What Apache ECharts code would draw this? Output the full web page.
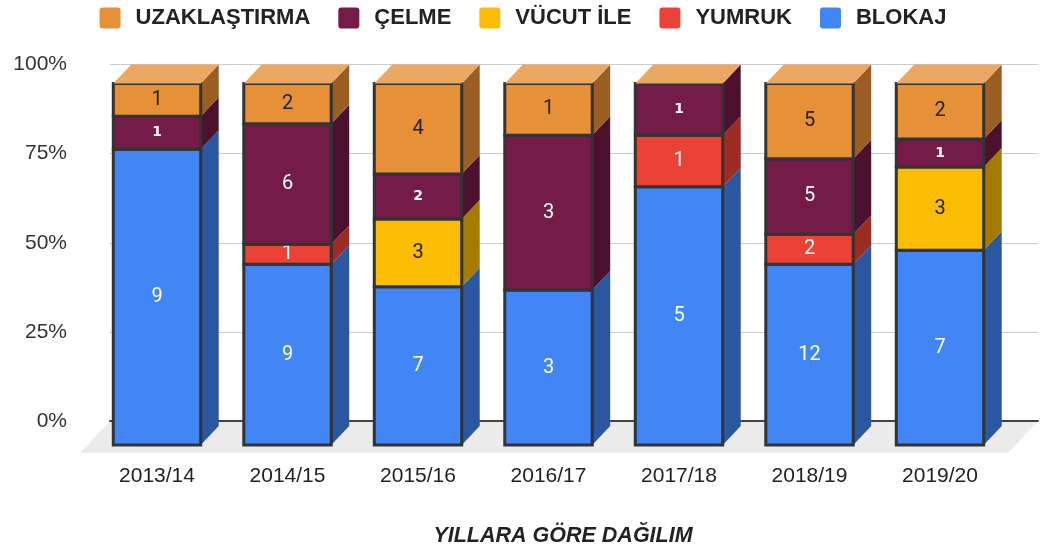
<!DOCTYPE html>
<html>
<head>
<meta charset="utf-8">
<script src="https://cdn.jsdelivr.net/npm/echarts@6/dist/echarts.min.js"></script>
<style>
  html, body { margin: 0; padding: 0; background: #fff; }
  #chart { width: 1046px; height: 552px; }
</style>
</head>
<body>
<div id="chart"></div>
<script>
// yillar
const categories = ['2013/14', '2014/15', '2015/16', '2016/17', '2017/18', '2018/19', '2019/20']
// seriler (alttan uste)
const blokaj = [9, 9, 7, 3, 5, 12, 7]
const yumruk = [0, 1, 0, 0, 1, 2, 0]
const vucutIle = [0, 0, 3, 0, 0, 0, 3]
const celme = [1, 6, 2, 3, 1, 5, 1]
const uzaklastirma = [1, 2, 4, 1, 0, 5, 2]
const yTicks = [0, 25, 50, 75, 100]
const legendOrder = ['UZAKLAŞTIRMA', 'ÇELME', 'VÜCUT İLE', 'YUMRUK', 'BLOKAJ']

const stack = [
  { name: 'BLOKAJ', values: blokaj, color: '#4285F4', side: '#2B57A0', label: '#fff' },
  { name: 'YUMRUK', values: yumruk, color: '#EA4335', side: '#9C2C23', label: '#fff' },
  { name: 'VÜCUT İLE', values: vucutIle, color: '#FBBC04', side: '#A37B00', label: '#222' },
  { name: 'ÇELME', values: celme, color: '#741B47', side: '#4B112E', label: '#fff', small: true },
  { name: 'UZAKLAŞTIRMA', values: uzaklastirma, color: '#E69138', side: '#9A5E22', label: '#222', top: '#EBA862' },
]

// derinlik (px)
const DX = 18
const DY = 19

let totals = categories.map((c, i) => stack.reduce((s, d) => s + d.values[i], 0))
let cum = categories.map(() => 0)
let seriesOption = []
for (let k = 0; k < stack.length; k++) {
  let d = stack[k]
  let data = []
  for (let i = 0; i < categories.length; i++) {
    let start = cum[i]
    let end = start + d.values[i] / totals[i] * 100
    cum[i] = end
    data.push([i, start, end, d.values[i]])
  }
  seriesOption.push({
    name: d.name,
    type: 'custom',
    xAxisIndex: 1,
    yAxisIndex: 1,
    clip: false,
    z: 3,
    itemStyle: { color: d.color },
    encode: { x: 0, y: [1, 2] },
    data: data,
    renderItem: function (params, api) {
      let cat = api.value(0)
      let s = api.value(1)
      let e = api.value(2)
      let v = api.value(3)
      let p0 = api.coord([cat, s])
      let p1 = api.coord([cat, e])
      let bw = api.size([1, 0])[0] * 0.67
      let xl = p0[0] - bw / 2
      let xr = xl + bw
      let children = []
      if (v > 0) {
        children.push({
          type: 'polygon',
          shape: { points: [[xr, p1[1]], [xr + DX, p1[1] - DY], [xr + DX, p0[1] - DY], [xr, p0[1]]] },
          style: { fill: d.side },
        })
        children.push({
          type: 'rect',
          shape: { x: xl, y: p1[1], width: bw, height: p0[1] - p1[1] },
          style: { fill: d.color, stroke: '#333', lineWidth: 3 },
        })
        let small = d.small && v <= 2
        children.push({
          type: 'text',
          style: {
            text: String(v),
            x: p0[0],
            y: (p0[1] + p1[1]) / 2,
            align: 'center',
            verticalAlign: 'middle',
            fill: d.label,
            fontFamily: small ? 'DejaVu Sans' : 'Roboto',
            fontSize: small ? 14 : 20,
            fontWeight: small ? 'bold' : 'normal',
          },
        })
      }
      if (d.top) {
        let pt = api.coord([cat, 100])
        children.push({
          type: 'polygon',
          shape: { points: [[xl, pt[1]], [xl + DX, pt[1] - DY], [xr + DX, pt[1] - DY], [xr, pt[1]]] },
          style: { fill: d.top },
        })
      }
      return { type: 'group', children: children }
    },
  })
}

let myChart = echarts.init(document.getElementById('chart'))
myChart.setOption({
  animation: false,
  textStyle: { fontFamily: 'Liberation Sans' },
  title: {
    text: 'YILLARA GÖRE DAĞILIM',
    left: 558,
    top: 520,
    textAlign: 'center',
    textStyle: { fontSize: 21.5, fontWeight: 'bold', fontStyle: 'italic', color: '#222', fontFamily: 'Liberation Sans' },
  },
  legend: {
    data: legendOrder,
    top: 2,
    left: 'center',
    itemWidth: 21,
    itemHeight: 21,
    itemGap: 28,
    icon: 'path://M3,0 H18 A3,3 0 0 1 21,3 V18 A3,3 0 0 1 18,21 H3 A3,3 0 0 1 0,18 V3 A3,3 0 0 1 3,0 Z',
    textStyle: { fontSize: 22, fontWeight: 'bold', color: '#222', padding: [0, 0, 0, 10] },
  },
  graphic: {
    elements: [
      {
        // zemin
        type: 'polygon',
        z: 1,
        shape: { points: [[110, 421], [1038, 421], [1008, 453], [80, 453]] },
        style: { fill: '#EBEBEB' },
      },
    ],
  },
  grid: [
    { left: 110, right: 8, top: 64.5, bottom: 131 },
    { left: 91.75, right: 40.75, top: 83.5, bottom: 107 },
  ],
  xAxis: [
    {
      gridIndex: 0,
      type: 'category',
      data: categories,
      axisTick: { show: false },
      axisLabel: { show: false },
      axisLine: { lineStyle: { color: '#444', width: 2 } },
      z: 2,
    },
    {
      gridIndex: 1,
      type: 'category',
      data: categories,
      axisTick: { show: false },
      axisLine: { show: false },
      axisLabel: { fontSize: 21, color: '#222', margin: 21 },
    },
  ],
  yAxis: [
    {
      gridIndex: 0,
      type: 'value',
      min: yTicks[0],
      max: yTicks[yTicks.length - 1],
      interval: 25,
      axisLine: { show: false },
      axisTick: { show: false },
      axisLabel: { fontSize: 21, color: '#333', margin: 43, formatter: '{value}%' },
      splitLine: { lineStyle: { color: '#CCC', width: 1 } },
    },
    {
      gridIndex: 1,
      type: 'value',
      min: 0,
      max: 100,
      show: false,
    },
  ],
  series: seriesOption,
})
</script>
</body>
</html>
